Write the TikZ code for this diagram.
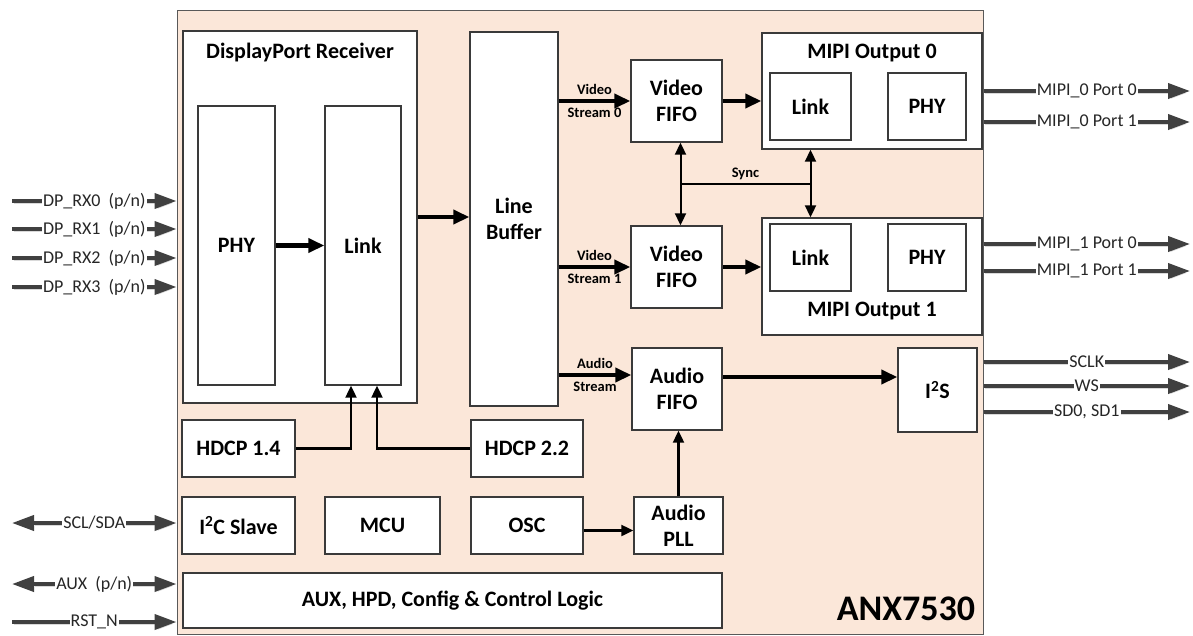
\documentclass[tikz,border=0pt]{standalone}
\usepackage{fontspec}
\setmainfont{Carlito}
\usetikzlibrary{positioning,arrows.meta,calc}
\definecolor{chipfill}{HTML}{FBE7D9}
\definecolor{sigcol}{HTML}{404040}
\definecolor{boxline}{HTML}{3A3A3A}
\tikzstyle{blk}=[draw=boxline, fill=white, line width=1.4pt, font=\fontsize{22}{26}\selectfont\bfseries, align=center, inner sep=0pt]
\tikzstyle{ttl}=[font=\fontsize{22}{26}\selectfont\bfseries]
\tikzstyle{thk}=[line width=4.5pt, -{Triangle[length=16pt,width=14pt]}]
\tikzstyle{thn}=[line width=2.2pt, -{Triangle[length=12pt,width=11pt]}]
\tikzstyle{thnb}=[line width=2pt, {Triangle[length=12pt,width=11pt]}-{Triangle[length=12pt,width=11pt]}]
\tikzstyle{sig}=[draw=sigcol, line width=3.8pt, preaction={draw=black!15, transform canvas={shift={(1.5pt,-2pt)}}}]
\tikzstyle{sigout}=[sig, -{Triangle[length=22pt,width=15pt]}]
\tikzstyle{sigboth}=[sig, {Triangle[length=22pt,width=15pt]}-{Triangle[length=22pt,width=15pt]}]
\tikzstyle{siglbl}=[fill=white, inner sep=1pt, text=black!85, font=\fontsize{18}{20}\selectfont]
\tikzstyle{strlbl}=[font=\fontsize{14.5}{16}\selectfont\bfseries]

\begin{document}
\begin{tikzpicture}[x=1pt,y=-1pt]
   \useasboundingbox (0,0) rectangle (1193,635);
   % chip outline
   \node[draw=black!65, fill=chipfill, line width=1pt, minimum width=806pt, minimum height=624pt] (chip) at (580,322) {};
   \node[font=\fontsize{36}{40}\selectfont\bfseries] (chipname) at (906,609) {ANX7530};

   % receiver
   \node[blk, minimum width=234pt, minimum height=372pt] (dprx) at (300,217) {};
   \node[ttl] (dprxt) at (300,53) {DisplayPort Receiver};
   \node[blk, minimum width=77pt, minimum height=279pt] (phy) at (236.5,245.5) {PHY};
   \node[blk, minimum width=76pt, minimum height=279pt] (link) at (363,245.5) {Link};
   \node[blk, minimum width=88pt, minimum height=374pt] (lbuf) at (514,219) {Line\\Buffer};

   % fifos
   \node[blk, minimum width=91pt, minimum height=82pt] (vfifo0) at (676.5,101) {Video\\FIFO};
   \node[blk, minimum width=91pt, minimum height=82pt] (vfifo1) at (676.5,267) {Video\\FIFO};
   \node[blk, minimum width=90pt, minimum height=82pt] (afifo) at (677,389) {Audio\\FIFO};

   % mipi outputs
   \node[blk, minimum width=220pt, minimum height=116pt] (mipi0) at (872,91) {};
   \node[ttl] (mipi0t) at (872,53) {MIPI Output 0};
   \node[blk, minimum width=81pt, minimum height=67pt] (mipi0link) at (810.5,106.5) {Link};
   \node[blk, minimum width=78pt, minimum height=67pt] (mipi0phy) at (927,106.5) {PHY};
   \node[blk, minimum width=220pt, minimum height=117pt] (mipi1) at (872,276.5) {};
   \node[ttl] (mipi1t) at (872,311) {MIPI Output 1};
   \node[blk, minimum width=81pt, minimum height=67pt] (mipi1link) at (810.5,257.5) {Link};
   \node[blk, minimum width=78pt, minimum height=67pt] (mipi1phy) at (927,257.5) {PHY};
   \node[blk, minimum width=79pt, minimum height=84pt] (i2s) at (937.5,390) {I\textsuperscript{2}S};

   % lower blocks
   \node[blk, minimum width=113pt, minimum height=57pt] (hdcpa) at (238.5,448.5) {HDCP 1.4};
   \node[blk, minimum width=112pt, minimum height=57pt] (hdcpb) at (527,448.5) {HDCP 2.2};
   \node[blk, minimum width=113pt, minimum height=57pt] (i2c) at (238.5,525.5) {I\textsuperscript{2}C Slave};
   \node[blk, minimum width=115pt, minimum height=57pt] (mcu) at (382.5,525.5) {MCU};
   \node[blk, minimum width=112pt, minimum height=57pt] (osc) at (527,525.5) {OSC};
   \node[blk, minimum width=89pt, minimum height=57pt] (apll) at (678.5,525.5) {Audio\\PLL};
   \node[blk, minimum width=539pt, minimum height=55pt] (ctrl) at (452.5,600.5) {AUX, HPD, Config \& Control Logic};

   % data path
   \draw[thk] (phy.east) -- (link.west);
   \draw[thk] (dprx.east) -- (dprx.east -| lbuf.west);
   \draw[thk] (lbuf.east |- vfifo0.west) -- (vfifo0.west)
      node[midway, above=1pt, strlbl] {Video} node[midway, below=1pt, strlbl] {Stream 0};
   \draw[thk] (lbuf.east |- vfifo1.west) -- (vfifo1.west)
      node[midway, above=1pt, strlbl] {Video} node[midway, below=1pt, strlbl] {Stream 1};
   \coordinate (ain) at ($(afifo.west)+(0,-14)$);
   \draw[thk] (ain -| lbuf.east) -- (ain)
      node[midway, above=1pt, strlbl] {Audio} node[midway, below=1pt, strlbl] {Stream};
   \draw[thk] (vfifo0.east) -- (vfifo0.east -| mipi0.west);
   \draw[thk] (vfifo1.east) -- (vfifo1.east -| mipi1.west);
   \coordinate (aout) at ($(afifo.east)+(0,-12)$);
   \draw[thk] (aout) -- (aout -| i2s.west);

   % control
   \draw[thn] (hdcpa.east) -| ([xshift=-12pt]link.south);
   \draw[thn] (hdcpb.west) -| ([xshift=14pt]link.south);
   \draw[thn] ([yshift=-5pt]osc.east) -- ([yshift=-5pt]apll.west);
   \draw[thn] (apll.north) -- (apll.north |- afifo.south);

   % sync
   \draw[thnb] ([xshift=4pt]vfifo0.south) -- ([xshift=4pt]vfifo1.north);
   \draw[thnb] (mipi0link.south |- mipi0.south) -- (mipi0link.south |- mipi1.north);
   \coordinate (syncl) at ($(vfifo0.south)!0.5!(vfifo1.north)+(4,0)$);
   \coordinate (syncr) at (mipi0link.south |- syncl);
   \draw[line width=1.5pt] (syncl) -- (syncr) node[midway, above=0pt, strlbl] {Sync};

   % pins left
   \foreach \i/\y in {0/201,1/229,2/258,3/287} {
      \coordinate (rx\i) at (12,\y);
      \draw[sigout] (rx\i) -- (rx\i -| chip.west) node[midway, siglbl] {DP\_RX\i\ \ (p/n)};
   }
   \coordinate (scl) at (12,523);
   \coordinate (aux) at (12,584);
   \coordinate (rst) at (12,622);
   \draw[sigboth] (scl) -- (scl -| chip.west) node[midway, siglbl] {SCL/SDA};
   \draw[sigboth] (aux) -- (aux -| chip.west) node[midway, siglbl] {AUX\ \ (p/n)};
   \draw[sigout] (rst) -- (rst -| chip.west) node[midway, siglbl] {RST\_N};

   % pins right
   \foreach \n/\y/\t in {m00/91/MIPI\_0 Port 0, m01/122/MIPI\_0 Port 1, m10/244/MIPI\_1 Port 0,
         m11/271/MIPI\_1 Port 1, sclk/362/SCLK, ws/386/WS, sd/412/{SD0, SD1}} {
      \coordinate (\n) at (1190,\y);
      \draw[sigout] (chip.east |- \n) -- (\n) node[midway, siglbl] {\t};
   }
\end{tikzpicture}
\end{document}
